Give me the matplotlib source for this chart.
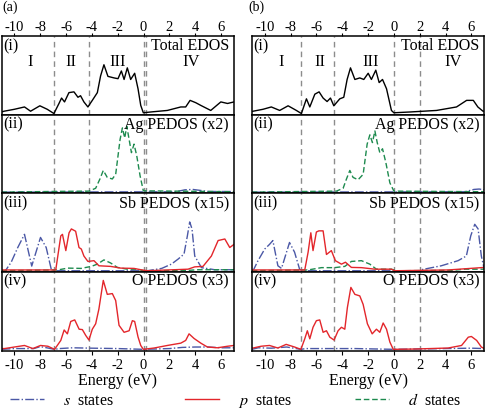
import matplotlib
matplotlib.use("Agg")
import matplotlib.pyplot as plt
from matplotlib.lines import Line2D

plt.rcParams['font.family'] = ['Liberation Serif', 'DejaVu Serif']
plt.rcParams['mathtext.fontset'] = 'stix'

# ---------------- data (energy in eV, DOS in relative panel units) ----------------
# (a) Total EDOS
a_tot_E = [-11.0, -10.8, -10.0, -9.22, -8.75, -8.03, -7.46, -6.94, -6.55, -6.35, -6.12, -5.78, -5.39, -5.08,
           -4.88, -4.62, -4.31, -3.97, -3.58, -3.33, -3.07, -2.76, -2.29, -1.98, -1.72, -1.51, -1.26, -1.00,
           -0.69, -0.43, -0.22, -0.02, 0.55, 1.84, 2.88, 3.26, 3.60, 4.04, 4.43, 5.20, 5.98, 6.50, 7.0]
a_tot_D = [0.02, 0.03, 0.055, 0.085, 0.03, 0.10, 0.055, 0.0, 0.13, 0.20, 0.15, 0.27, 0.28, 0.21,
           0.23, 0.15, 0.085, 0.17, 0.27, 0.485, 0.63, 0.48, 0.46, 0.45, 0.55, 0.44, 0.59, 0.44,
           0.52, 0.32, 0.105, 0.01, 0.02, 0.04, 0.085, 0.085, 0.17, 0.14, 0.105, 0.04, 0.15, 0.13, 0.15]
# (b) Total EDOS
b_tot_E = [-11.0, -10.9, -10.13, -9.49, -8.84, -8.19, -7.55, -7.16, -6.77, -6.51, -6.12, -5.79, -5.48, -5.17,
           -4.91, -4.65, -4.19, -3.88, -3.62, -3.36, -3.02, -2.64, -2.33, -1.99, -1.74, -1.40, -1.14, -0.88,
           -0.57, -0.19, 0.0, 1.24, 3.30, 4.85, 5.63, 6.15, 6.50, 6.9, 7.0]
b_tot_D = [0.025, 0.03, 0.055, 0.085, 0.04, 0.10, 0.04, 0.0, 0.19, 0.085, 0.25, 0.28, 0.20, 0.155,
           0.20, 0.10, 0.19, 0.21, 0.44, 0.59, 0.44, 0.46, 0.44, 0.52, 0.44, 0.56, 0.40, 0.44,
           0.32, 0.04, 0.01, 0.02, 0.04, 0.085, 0.17, 0.17, 0.085, 0.03, 0.03]

# (a) Ag PEDOS (x2)
a_ag_d_E = [-11.0, -6.43, -4.23, -3.71, -3.38, -3.12, -2.81, -2.42, -2.16, -1.82, -1.64, -1.46, -1.30, -1.12,
            -0.94, -0.74, -0.53, -0.27, -0.02, 7.0]
a_ag_d_D = [0.0, 0.01, 0.013, 0.05, 0.17, 0.28, 0.19, 0.17, 0.23, 0.68, 0.83, 0.70, 0.85, 0.68,
            0.51, 0.62, 0.47, 0.21, 0.017, 0.005]
a_ag_s_E = [-11.0, 2.5, 3.2, 3.8, 4.5, 5.0, 7.0]
a_ag_s_D = [0.0, 0.005, 0.03, 0.035, 0.02, 0.008, 0.008]
# (b) Ag PEDOS (x2)
b_ag_d_E = [-11.0, -6.12, -4.45, -3.93, -3.67, -3.41, -3.16, -2.77, -2.38, -2.07, -1.86, -1.66, -1.47, -1.29,
            -1.09, -0.88, -0.62, -0.31, 0.0, 7.0]
b_ag_d_D = [0.0, 0.01, 0.013, 0.05, 0.17, 0.28, 0.19, 0.16, 0.23, 0.62, 0.74, 0.64, 0.79, 0.64,
            0.51, 0.56, 0.38, 0.12, 0.013, 0.005]
b_ag_s_E = [-11.0, 5.5, 6.2, 6.6, 7.0]
b_ag_s_D = [0.0, 0.005, 0.035, 0.04, 0.03]

# (a) Sb PEDOS (x15)
a_sb_s_E = [-11.0, -10.7, -10.25, -9.74, -9.22, -8.66, -7.98, -7.54, -7.15, -6.9, 0.3, 1.4, 2.15, 2.67,
            3.13, 3.39, 3.57, 3.75, 3.96, 4.48, 5.51, 7.0]
a_sb_s_D = [0.0, 0.0, 0.11, 0.30, 0.47, 0.06, 0.43, 0.30, 0.02, 0.0, 0.0, 0.03, 0.085, 0.15,
            0.215, 0.45, 0.63, 0.54, 0.19, 0.04, 0.013, 0.013]
a_sb_p_E = [-11.0, -6.8, -6.41, -6.28, -6.02, -5.77, -5.59, -5.26, -5.0, -4.82, -4.62, -4.31, -3.84, -3.46,
            -2.55, -1.77, -0.74, -0.22, 0.3, 3.44, 3.96, 4.6, 5.25, 5.77, 6.29, 6.67, 7.0]
a_sb_p_D = [0.01, 0.01, 0.45, 0.47, 0.26, 0.49, 0.54, 0.51, 0.30, 0.28, 0.19, 0.12, 0.13, 0.064,
            0.056, 0.034, 0.03, 0.013, 0.0, 0.02, 0.05, 0.056, 0.19, 0.39, 0.41, 0.30, 0.34]
a_sb_d_E = [-11.0, -6.64, -5.87, -4.84, -4.05, -3.58, -3.07, -2.55, -2.03, -1.26, -0.48, 0.0, 3.5, 4.2, 7.0]
a_sb_d_D = [0.0, 0.01, 0.034, 0.03, 0.056, 0.085, 0.14, 0.10, 0.043, 0.02, 0.02, 0.0, 0.005, 0.013, 0.013]
# (b) Sb PEDOS (x15)
b_sb_s_E = [-11.0, -10.9, -10.52, -10.0, -9.63, -9.37, -8.98, -8.7, -8.08, -7.69, -7.30, -7.05, 2.0, 2.12,
            3.67, 4.97, 5.61, 5.95, 6.26, 6.52, 6.77, 7.0]
b_sb_s_D = [0.0, 0.0, 0.13, 0.28, 0.34, 0.39, 0.064, 0.03, 0.365, 0.24, 0.02, 0.0, 0.0, 0.013,
            0.064, 0.13, 0.19, 0.45, 0.60, 0.54, 0.19, 0.02]
b_sb_p_E = [-11.0, -6.9, -6.64, -6.43, -6.26, -6.0, -5.81, -5.48, -5.22, -4.84, -4.53, -4.06, -3.75, -3.29,
            -2.51, -1.47, -0.19, 0.08, 4.19, 6.26, 7.0]
b_sb_p_D = [0.01, 0.01, 0.24, 0.49, 0.26, 0.50, 0.515, 0.515, 0.21, 0.26, 0.13, 0.085, 0.11, 0.043,
            0.04, 0.02, 0.02, 0.0, 0.01, 0.034, 0.043]
b_sb_d_E = [-11.0, -6.64, -5.61, -4.58, -3.8, -3.29, -2.51, -1.86, -1.35, -0.19, 0.2, 4.5, 5.5, 7.0]
b_sb_d_D = [0.0, 0.01, 0.04, 0.04, 0.056, 0.12, 0.13, 0.085, 0.02, 0.02, 0.0, 0.005, 0.02, 0.02]

# (a) O PEDOS (x3)
a_o_p_E = [-11.0, -10.77, -10.0, -9.22, -8.57, -7.98, -7.41, -6.89, -6.41, -6.15, -5.9, -5.64, -5.33, -4.99,
           -4.74, -4.48, -4.23, -3.97, -3.71, -3.46, -3.12, -2.81, -2.42, -2.16, -1.90, -1.51, -1.12, -0.87,
           -0.69, -0.43, -0.22, -0.02, 0.81, 1.84, 2.88, 3.26, 3.52, 3.91, 4.43, 4.94, 5.72, 6.5, 7.0]
a_o_p_D = [0.01, 0.01, 0.03, 0.05, 0.01, 0.05, 0.04, 0.0, 0.115, 0.25, 0.20, 0.36, 0.38, 0.26,
           0.255, 0.18, 0.12, 0.26, 0.33, 0.52, 0.89, 0.71, 0.72, 0.63, 0.31, 0.22, 0.24, 0.37,
           0.36, 0.16, 0.05, 0.0, 0.017, 0.05, 0.08, 0.115, 0.20, 0.14, 0.08, 0.03, 0.02, 0.04, 0.05]
a_o_s_E = [-11.0, -10.0, -8.5, -8.0, -7.5, -6.9, -6.5, -5.5, -4.0, -2.0, 0.0, 2.0, 3.0, 4.0, 5.0, 6.0, 7.0]
a_o_s_D = [0.0, 0.01, 0.01, 0.035, 0.02, 0.0, 0.01, 0.02, 0.015, 0.01, 0.0, 0.01, 0.025, 0.03, 0.03, 0.02, 0.02]
# (b) O PEDOS (x3)
b_o_p_E = [-11.0, -10.9, -10.28, -9.63, -8.98, -8.34, -7.69, -7.2, -6.9, -6.7, -6.51, -6.26, -6.0, -5.74,
           -5.48, -5.22, -4.96, -4.63, -4.32, -4.06, -3.80, -3.6, -3.33, -3.02, -2.64, -2.38, -2.05, -1.68,
           -1.35, -1.09, -0.83, -0.57, -0.31, -0.05, 1.63, 4.2, 5.24, 5.76, 6.0, 6.41, 6.77, 7.0]
b_o_p_D = [0.017, 0.017, 0.04, 0.05, 0.017, 0.064, 0.03, 0.0, 0.136, 0.24, 0.136, 0.285, 0.37, 0.38,
           0.22, 0.24, 0.157, 0.12, 0.24, 0.285, 0.26, 0.54, 0.80, 0.71, 0.69, 0.58, 0.33, 0.20,
           0.26, 0.22, 0.34, 0.26, 0.094, 0.0, 0.004, 0.017, 0.05, 0.157, 0.166, 0.115, 0.03, 0.01]
b_o_s_E = [-11.0, -10.5, -9.5, -8.3, -7.2, -6.8, -3.0, 0.0, 4.0, 6.0, 7.0]
b_o_s_D = [0.0, 0.02, 0.015, 0.03, 0.0, 0.01, 0.01, 0.0, 0.01, 0.015, 0.01]

panel_names = ["(i)", "(ii)", "(iii)", "(iv)"]
panel_titles = ["Total EDOS", "Ag PEDOS (x2)", "Sb PEDOS (x15)", "O PEDOS (x3)"]
region_names = ["I", "II", "III", "IV"]
a_region_pos = [-8.8, -5.6, -2.0, 3.65]
b_region_pos = [-8.7, -5.7, -1.8, 4.6]
a_bounds = [-6.9, -4.23, 0.0, 0.15]
b_bounds = [-7.2, -4.65, 0.0, 2.0]
xticks = [-10, -8, -6, -4, -2, 0, 2, 4, 6]
tick_labels = ["-10", "-8", "-6", "-4", "-2", "0", "2", "4", "6"]
legend_labels = ["$s$  states", "$p$  states", "$d$  states"]

C_S = '#4b58a6'
C_P = '#e3262b'
C_D = '#1d8a4e'
C_V = '#8c8c8c'

fig = plt.figure(figsize=(4.86, 4.09), dpi=100)

H = 78.6 / 409
BOT = 1 - 350.5 / 409
lefts = [1.5 / 486, 251.8 / 486]
W = 232.5 / 486

datasets = {
    'a': dict(tot=(a_tot_E, a_tot_D), ag_d=(a_ag_d_E, a_ag_d_D), ag_s=(a_ag_s_E, a_ag_s_D),
              sb_s=(a_sb_s_E, a_sb_s_D), sb_p=(a_sb_p_E, a_sb_p_D), sb_d=(a_sb_d_E, a_sb_d_D),
              o_p=(a_o_p_E, a_o_p_D), o_s=(a_o_s_E, a_o_s_D), regions=a_region_pos, bounds=a_bounds),
    'b': dict(tot=(b_tot_E, b_tot_D), ag_d=(b_ag_d_E, b_ag_d_D), ag_s=(b_ag_s_E, b_ag_s_D),
              sb_s=(b_sb_s_E, b_sb_s_D), sb_p=(b_sb_p_E, b_sb_p_D), sb_d=(b_sb_d_E, b_sb_d_D),
              o_p=(b_o_p_E, b_o_p_D), o_s=(b_o_s_E, b_o_s_D), regions=b_region_pos, bounds=b_bounds),
}

lw = 1.0
DASH = (0, (4, 2))
for col, key in enumerate(['a', 'b']):
    d = datasets[key]
    axes = []
    for row in range(4):
        ax = fig.add_axes([lefts[col], BOT + (3 - row) * H, W, H])
        ax.set_xlim(-11, 7)
        ax.set_ylim(-0.015, 1.0)
        ax.set_yticks([])
        ax.set_xticks(xticks)
        ax.tick_params(axis='x', which='both', top=False, bottom=False, labeltop=False, labelbottom=False,
                       direction='out', length=3, width=0.8, labelsize=10.5, pad=2)
        for s in ax.spines.values():
            s.set_linewidth(1.1)
        for b in d['bounds']:
            ax.axvline(b, color=C_V, lw=1.0, ls=(0, (4, 3)), zorder=1)
        ax.text(0.008, 0.975, panel_names[row], transform=ax.transAxes, ha='left', va='top', fontsize=11.5)
        ax.text(0.978, 0.975, panel_titles[row], transform=ax.transAxes, ha='right', va='top', fontsize=11.5)
        axes.append(ax)

    ax = axes[0]
    ax.plot(*d['tot'], color='black', lw=lw)
    for name, xp in zip(region_names, d['regions']):
        ax.text(xp, 0.66, name, ha='center', va='center', fontsize=12)
    ax.tick_params(axis='x', top=True, labeltop=True, length=2, pad=-0.5)
    ax.set_xticklabels(tick_labels)

    ax = axes[1]
    ax.plot(*d['ag_s'], color=C_S, lw=lw, ls='-.')
    ax.plot(*d['ag_d'], color=C_D, lw=lw, ls=DASH)

    ax = axes[2]
    ax.plot(*d['sb_s'], color=C_S, lw=lw, ls='-.')
    ax.plot(*d['sb_d'], color=C_D, lw=lw, ls=DASH)
    ax.plot(*d['sb_p'], color=C_P, lw=lw)

    ax = axes[3]
    ax.plot(*d['o_s'], color=C_S, lw=lw, ls='-.')
    ax.plot(*d['o_p'], color=C_P, lw=lw)
    ax.tick_params(axis='x', bottom=True, labelbottom=True, pad=3)
    ax.set_xticklabels(tick_labels)
    ax.set_xlabel("Energy (eV)", fontsize=11.5, labelpad=1)

fig.text(2 / 486, 1 - 7 / 409, "(a)", ha='left', va='center', fontsize=10)
fig.text(248 / 486, 1 - 7 / 409, "(b)", ha='left', va='center', fontsize=10)

handles = [Line2D([], [], color=C_S, lw=lw, ls='-.'),
           Line2D([], [], color=C_P, lw=lw),
           Line2D([], [], color=C_D, lw=lw, ls=DASH)]
legend_x = [10 / 486, 185 / 486, 355 / 486]
for h, lab, lx in zip(handles, legend_labels, legend_x):
    leg = fig.legend([h], [lab], loc='center left', bbox_to_anchor=(lx, 1 - 401 / 409), frameon=False,
                     fontsize=11.5, handlelength=2.1, handletextpad=1.2, borderaxespad=0, borderpad=0)

fig.savefig("out.png", dpi=100)
